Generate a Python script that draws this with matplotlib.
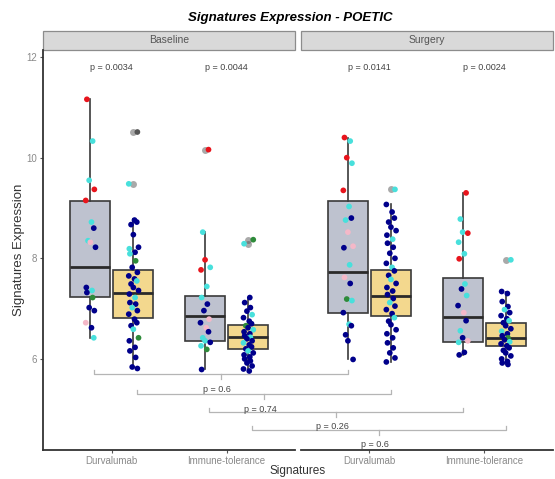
import matplotlib
matplotlib.use("Agg")
import matplotlib.pyplot as plt
from matplotlib.patches import Rectangle

plt.rcParams['font.family'] = ['Liberation Sans', 'DejaVu Sans']

# --- data ---
timepoints = ["Baseline", "Surgery"]
categories = ["Durvalumab", "Immune-tolerance"]

# box stats: (whislo, q1, med, q3, whishi), order: B-Durv grey, B-Durv yellow,
# B-IT grey, B-IT yellow, S-Durv grey, S-Durv yellow, S-IT grey, S-IT yellow
box_stats = [
    (6.42, 7.24, 7.82, 9.14, 11.16),
    (5.81, 6.82, 7.31, 7.77, 8.78),
    (5.79, 6.36, 6.86, 7.25, 8.52),
    (5.76, 6.19, 6.44, 6.68, 7.22),
    (5.99, 6.92, 7.72, 9.13, 10.40),
    (5.94, 6.85, 7.26, 7.77, 9.07),
    (6.08, 6.33, 6.84, 7.60, 9.30),
    (5.89, 6.26, 6.41, 6.72, 7.34),
]
box_fliers = [
    [],
    [10.51, 9.48],
    [10.16],
    [8.37, 8.29],
    [],
    [9.37],
    [],
    [7.97],
]

pts_b_durv_a = [11.16, 10.33, 9.55, 9.37, 9.15, 8.72, 8.60, 8.35, 8.32, 8.22,
                7.42, 7.36, 7.32, 7.22, 7.02, 6.96, 6.72, 6.62, 6.42]
col_b_durv_a = "rccrrcncpnncngnnpnc"
pts_b_durv_b = [10.51, 9.48, 8.76, 8.72, 8.67, 8.47, 8.22, 8.19, 8.12, 8.09, 7.95,
                7.82, 7.72, 7.65, 7.59, 7.55, 7.49, 7.42, 7.36, 7.29, 7.22, 7.12,
                7.09, 7.02, 6.96, 6.89, 6.79, 6.72, 6.66, 6.59, 6.42, 6.36, 6.23,
                6.16, 6.03, 5.84, 5.81]
col_b_durv_b = "kcnnnnncncgnnnncnnnncnncnnnnncgnnnnnn"
pts_b_it_a = [10.16, 8.52, 7.97, 7.82, 7.77, 7.44, 7.22, 7.09, 6.96, 6.79, 6.72,
              6.62, 6.54, 6.42, 6.36, 6.33, 6.26, 6.19, 5.79]
col_b_it_a = "rcrcrccnnpnpnccncgn"
pts_b_it_b = [8.37, 8.29, 7.22, 7.12, 7.02, 6.95, 6.88, 6.82, 6.75, 6.70, 6.66,
              6.62, 6.58, 6.54, 6.50, 6.46, 6.43, 6.40, 6.36, 6.32, 6.28, 6.24,
              6.20, 6.16, 6.12, 6.08, 6.04, 6.00, 5.96, 5.92, 5.86, 5.80, 5.76]
col_b_it_b = "gcnnnncnnngncnnncnncnnncnnnnnnnnn"
pts_s_durv_a = [10.40, 10.33, 10.00, 9.89, 9.35, 9.03, 8.80, 8.76, 8.52, 8.24,
                8.21, 7.87, 7.62, 7.50, 7.19, 7.16, 6.92, 6.69, 6.66, 6.48, 6.36, 5.99]
col_s_durv_a = "rcrcrcncppncpngcncnnnn"
pts_s_durv_b = [9.37, 9.07, 8.92, 8.80, 8.72, 8.62, 8.55, 8.46, 8.38, 8.30, 8.22,
                8.10, 8.00, 7.90, 7.82, 7.75, 7.66, 7.58, 7.50, 7.42, 7.35, 7.28,
                7.20, 7.12, 7.05, 6.98, 6.90, 6.82, 6.75, 6.68, 6.58, 6.50, 6.42,
                6.32, 6.22, 6.12, 6.02, 5.94]
col_s_durv_b = "cnnnnnnncnnnnncnncnnnnncnnncnnnnnnnnnn"
pts_s_it_a = [9.30, 8.78, 8.52, 8.50, 8.32, 8.09, 7.99, 7.49, 7.39, 7.26, 7.06,
              6.92, 6.76, 6.56, 6.42, 6.36, 6.33, 6.13, 6.08]
col_s_it_a = "rccrccrcncnpncnpcnn"
pts_s_it_b = [7.97, 7.34, 7.30, 7.14, 7.04, 6.98, 6.92, 6.86, 6.80, 6.76, 6.72,
              6.66, 6.60, 6.55, 6.50, 6.46, 6.42, 6.38, 6.34, 6.30, 6.26, 6.22,
              6.17, 6.12, 6.06, 6.00, 5.95, 5.92, 5.89]
col_s_it_b = "cnnnncnnncnnncnngncnnnnnnnnnn"

all_points = [pts_b_durv_a, pts_b_durv_b, pts_b_it_a, pts_b_it_b,
              pts_s_durv_a, pts_s_durv_b, pts_s_it_a, pts_s_it_b]
all_colors = [col_b_durv_a, col_b_durv_b, col_b_it_a, col_b_it_b,
              col_s_durv_a, col_s_durv_b, col_s_it_a, col_s_it_b]

top_pvals = ["p = 0.0034", "p = 0.0044", "p = 0.0141", "p = 0.0024"]
# brackets: (box index from, box index to, label)
bracket_pairs = [(0, 4, "p = 0.6"), (1, 5, "p = 0.74"), (2, 6, "p = 0.26"), (3, 7, "p = 0.6")]
bracket_y = [5.70, 5.30, 4.95, 4.59]

# --- layout ---
point_colors = {"n": "#00008B", "c": "#48E0DC", "r": "#E8141C", "p": "#F4B8C8",
                "g": "#2E8B3A", "k": "#555555"}
fill_colors = ["#BEC2CF", "#F3D88E"]
panel_w = 2.2
gap = 0.045
panel_starts = [0.4, 0.4 + panel_w + gap]
dodge = 0.1875
box_w = 0.35
jitter = [-0.03, 0.02, -0.01, 0.035, -0.04, 0.01, 0.03, -0.02, 0.0, 0.045, -0.035, 0.015]

cat_pos = []
for ps in panel_starts:
    cat_pos += [ps + 0.6, ps + 1.6]
box_pos = []
for c in cat_pos:
    box_pos += [c - dodge, c + dodge]

fig = plt.figure(figsize=(5.55, 4.79), dpi=100)
ax = fig.add_axes([43 / 555, 29 / 479, 510 / 555, 400 / 479])

stats = []
for (lo, q1, med, q3, hi), fl in zip(box_stats, box_fliers):
    stats.append(dict(whislo=lo, q1=q1, med=med, q3=q3, whishi=hi, fliers=fl))

bp = ax.bxp(stats, positions=box_pos, widths=box_w, patch_artist=True, showcaps=False,
            boxprops=dict(edgecolor="#3a3a3a", linewidth=1.2),
            whiskerprops=dict(color="#3a3a3a", linewidth=1.2),
            medianprops=dict(color="#2a2a2a", linewidth=2.0),
            flierprops=dict(marker="o", markersize=5, markerfacecolor="#555555",
                            markeredgecolor="none", alpha=0.5),
            manage_ticks=False, zorder=2)
for i, patch in enumerate(bp["boxes"]):
    patch.set_facecolor(fill_colors[i % 2])

for i, (vals, cols) in enumerate(zip(all_points, all_colors)):
    xs = [box_pos[i] + jitter[(j + 3 * i) % len(jitter)] for j in range(len(vals))]
    ax.scatter(xs, vals, s=17, c=[point_colors[k] for k in cols], edgecolors="none",
               zorder=3)

# top p-values
for c, txt in zip(cat_pos, top_pvals):
    ax.text(c, 11.80, txt, ha="center", va="center", fontsize=6.5, color="#444444")

# comparison brackets
for (a, b, txt), yb in zip(bracket_pairs, bracket_y):
    xa, xb = box_pos[a] + 0.03, box_pos[b]
    ax.plot([xa, xa, xb, xb], [yb + 0.08, yb, yb, yb + 0.08], color="#b5b5b5", lw=0.9,
            zorder=1)
    xm = (xa + xb) / 2
    ax.plot([xm, xm], [yb, yb - 0.1], color="#b5b5b5", lw=0.9, zorder=1)
    ax.text(xm - 0.03, yb - 0.3, txt, ha="center", va="center", fontsize=6.5,
            color="#444444")

ax.set_xlim(0.4, panel_starts[1] + panel_w)
ax.set_ylim(4.19, 12.14)
ax.set_yticks([6, 8, 10, 12])
ax.set_xticks(cat_pos)
ax.set_xticklabels(categories * 2)
ax.tick_params(axis="both", labelsize=7, labelcolor="#8a8a8a", colors="#555555",
               length=2.5, width=0.8, pad=2)

for s in ["top", "right", "bottom"]:
    ax.spines[s].set_visible(False)
ax.spines["left"].set_color("#333333")
ax.spines["left"].set_linewidth(1.3)
xt = ax.get_xaxis_transform()
for ps in panel_starts:
    ax.plot([ps, ps + panel_w], [0, 0], color="#333333", lw=1.3, transform=xt,
            clip_on=False)
    # facet strip
    ax.add_patch(Rectangle((ps, 1.0), panel_w, 0.048, transform=xt, clip_on=False,
                           facecolor="#D9D9D9", edgecolor="#8c8c8c", lw=0.9))
for ps, tp in zip(panel_starts, timepoints):
    ax.text(ps + panel_w / 2, 1.024, tp, transform=xt, ha="center", va="center",
            fontsize=7.5, color="#555555")

ax.set_ylabel("Signatures Expression", fontsize=9.5, color="#333333", labelpad=1)
fig.text(298 / 555, 1 - 471 / 479, "Signatures", ha="center", va="center",
         fontsize=8.5, color="#333333")
fig.text(290 / 555, 1 - 18 / 479, "Signatures Expression - POETIC", ha="center",
         va="center", fontsize=9.5, fontweight="bold", fontstyle="italic")

fig.savefig("out.png", dpi=100)
